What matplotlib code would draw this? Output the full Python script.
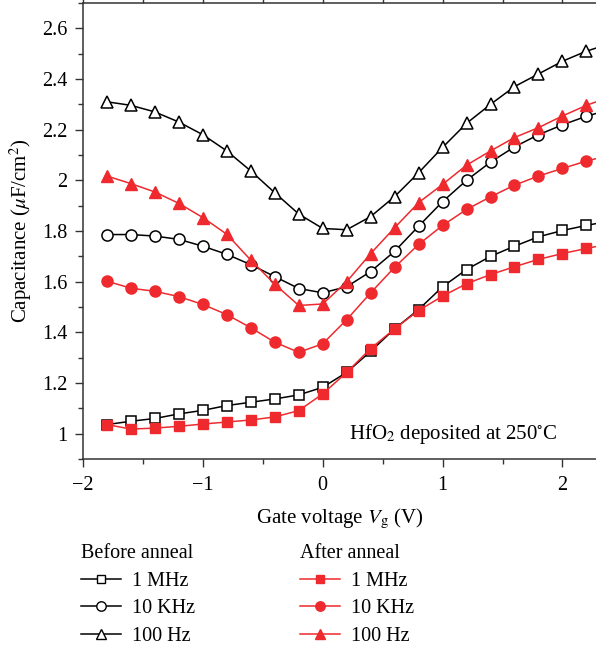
import numpy as np
import matplotlib
matplotlib.use("Agg")
import matplotlib.pyplot as plt
from matplotlib.lines import Line2D
from matplotlib.ticker import MultipleLocator, FuncFormatter

plt.rcParams["font.family"] = ["Liberation Serif", "DejaVu Serif"]
plt.rcParams["mathtext.fontset"] = "stix"

# gate voltage (V)
vg = [-1.8, -1.6, -1.4, -1.2, -1.0, -0.8, -0.6, -0.4, -0.2, 0.0,
      0.2, 0.4, 0.6, 0.8, 1.0, 1.2, 1.4, 1.6, 1.8, 2.0, 2.2, 2.4]

# before anneal
before_1mhz = [1.036, 1.049, 1.060, 1.078, 1.092, 1.111, 1.124, 1.137, 1.153, 1.183,
               1.242, 1.325, 1.414, 1.490, 1.580, 1.648, 1.700, 1.740, 1.777, 1.802, 1.822, 1.84]
before_10khz = [1.786, 1.786, 1.780, 1.767, 1.740, 1.708, 1.667, 1.620, 1.573, 1.556,
                1.580, 1.640, 1.720, 1.819, 1.916, 2.000, 2.072, 2.132, 2.180, 2.219, 2.253, 2.28]
before_100hz = [2.310, 2.296, 2.270, 2.230, 2.180, 2.116, 2.037, 1.951, 1.867, 1.810,
                1.805, 1.857, 1.936, 2.030, 2.130, 2.225, 2.300, 2.370, 2.420, 2.470, 2.510, 2.54]

# after anneal
after_1mhz = [1.036, 1.018, 1.022, 1.029, 1.038, 1.046, 1.054, 1.066, 1.091, 1.157,
              1.242, 1.336, 1.414, 1.486, 1.543, 1.592, 1.628, 1.659, 1.688, 1.711, 1.731, 1.75]
after_10khz = [1.602, 1.574, 1.562, 1.541, 1.510, 1.470, 1.418, 1.361, 1.321, 1.355,
               1.450, 1.556, 1.657, 1.747, 1.822, 1.885, 1.935, 1.981, 2.017, 2.047, 2.076, 2.10]
after_100hz = [2.017, 1.987, 1.954, 1.909, 1.853, 1.787, 1.685, 1.590, 1.506, 1.512,
               1.600, 1.711, 1.813, 1.912, 1.984, 2.060, 2.116, 2.169, 2.208, 2.254, 2.296, 2.33]

labels = ["1 MHz", "10 KHz", "100 Hz"]
red = "#ee2a2e"

fig = plt.figure(figsize=(5.96, 6.46), dpi=100)
ax = fig.add_axes([83 / 596, 1 - 459 / 646, 1 - 83 / 596, 456 / 646])

before = [before_1mhz, before_10khz, before_100hz]
after = [after_1mhz, after_10khz, after_100hz]
markers = ["s", "o", "^"]
sizes = [6.8, 8, 9]

h_before = []
h_after = []
for ys, m, s, lab in zip(before, markers, sizes, labels):
    ax.plot(vg, ys, color="black", lw=1.1, marker=m, ms=s, mfc="white",
            mec="black", mew=1.1, zorder=3)
    h_before.append(Line2D([], [], color="black", lw=1.1, marker=m, ms=s * 0.85,
                           mfc="white", mec="black", mew=1.0, label=lab))
for ys, m, s, lab in zip(after, markers, sizes, labels):
    ax.plot(vg, ys, color=red, lw=1.1, marker=m, ms=s, mfc=red, mec=red, zorder=4)
    h_after.append(Line2D([], [], color=red, lw=1.1, marker=m, ms=s * 0.85,
                          mfc=red, mec=red, label=lab))

ax.set_xlim(-2, 2.28)
ax.set_ylim(0.9, 2.7)
ax.xaxis.set_major_locator(MultipleLocator(1))
ax.xaxis.set_minor_locator(MultipleLocator(0.5))
ax.yaxis.set_major_locator(MultipleLocator(0.2))
ax.yaxis.set_minor_locator(MultipleLocator(0.1))
ax.yaxis.set_major_formatter(FuncFormatter(lambda v, p: ("%g" % round(v, 2))))
ax.xaxis.set_major_formatter(FuncFormatter(lambda v, p: ("%g" % v).replace("-", "\u2212")))

ax.spines["right"].set_visible(False)
for sp in ["left", "bottom", "top"]:
    ax.spines[sp].set_linewidth(1.1)
    ax.spines[sp].set_color("#333333")
ax.tick_params(which="major", length=6, width=1.0, labelsize=14.5, color="#333333")
ax.tick_params(which="minor", length=3.5, width=1.0, color="#333333")
ax.tick_params(axis="x", top=True, which="both", pad=6)
ax.tick_params(axis="y", pad=5)

ax.set_xlabel("Gate voltage $V_{\\rm g}$ (V)", fontsize=15, labelpad=9)
ax.set_ylabel("Capacitance ($\\mu$F/cm$^2$)", fontsize=15, labelpad=6)

ax.text(0.22, 1.0, "HfO$_2$ deposited at 250$^{\\circ}$C", fontsize=15,
        ha="left", va="center")

leg1 = fig.legend(handles=h_before, title="Before anneal", loc="upper left",
                  bbox_to_anchor=(81 / 596, 1 - 544 / 646), frameon=False,
                  fontsize=14.5, title_fontsize=14.5, handlelength=2.0,
                  handletextpad=0.55, labelspacing=0.42, borderpad=0,
                  borderaxespad=0)
leg1._legend_box.align = "left"
leg2 = fig.legend(handles=h_after, title="After anneal", loc="upper left",
                  bbox_to_anchor=(300 / 596, 1 - 544 / 646), frameon=False,
                  fontsize=14.5, title_fontsize=14.5, handlelength=2.0,
                  handletextpad=0.55, labelspacing=0.42, borderpad=0,
                  borderaxespad=0)
leg2._legend_box.align = "left"

fig.savefig("out.png", dpi=100)
